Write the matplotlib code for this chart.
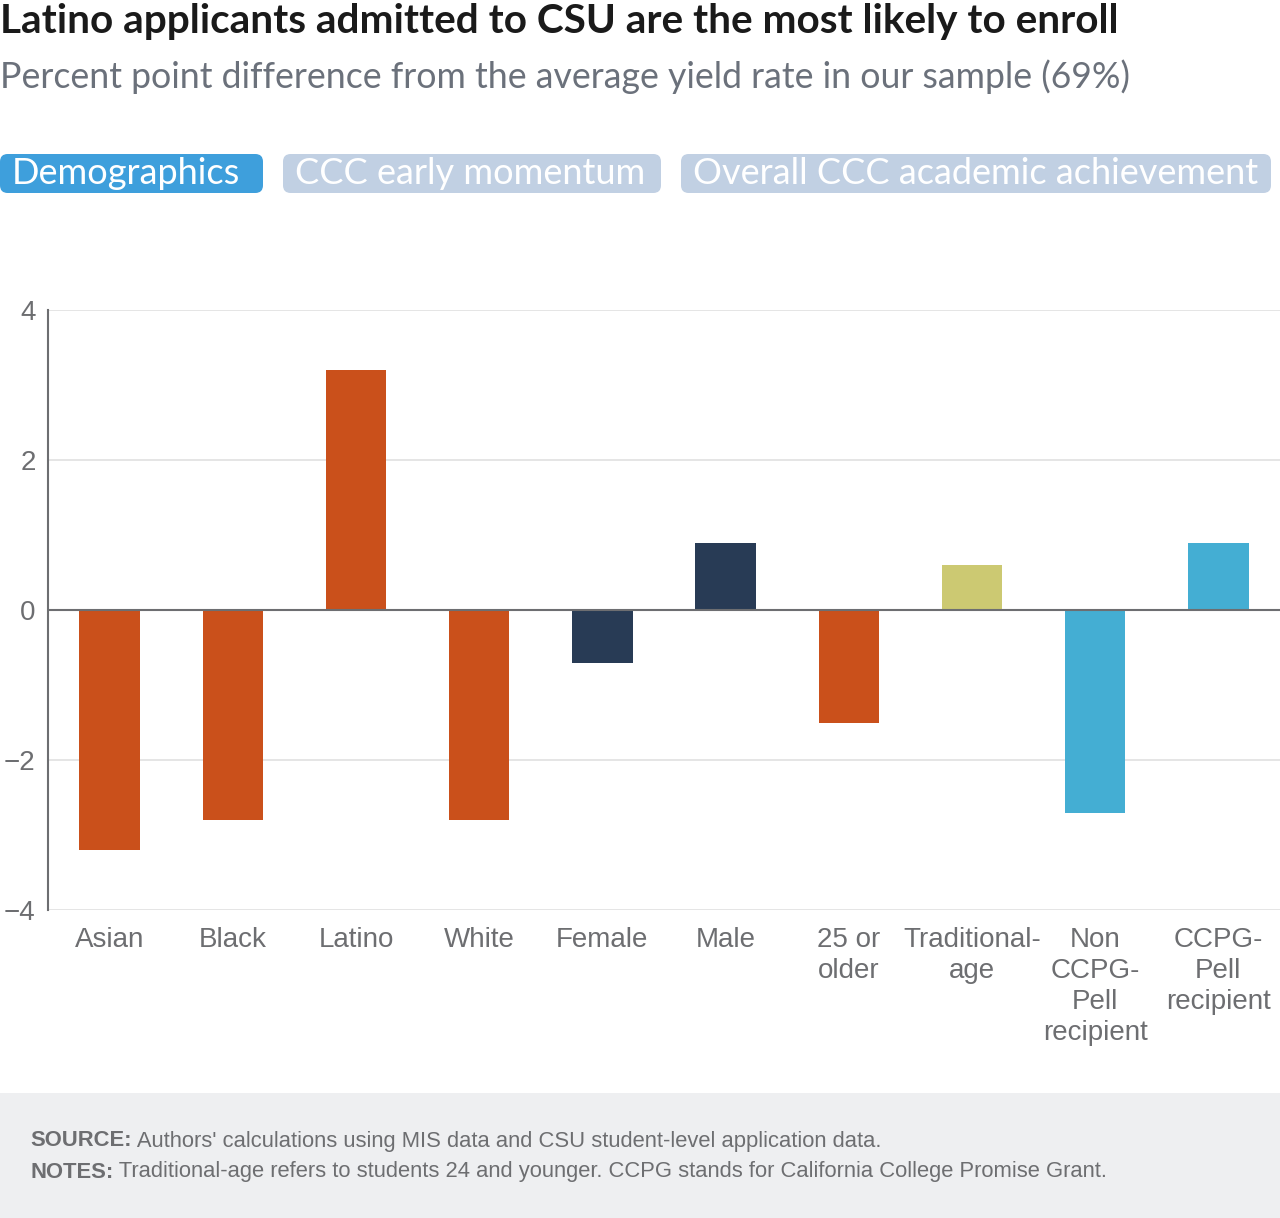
import matplotlib
matplotlib.use("Agg")
import matplotlib.pyplot as plt
from matplotlib.patches import FancyBboxPatch, Rectangle

# data
categories = ["Asian", "Black", "Latino", "White", "Female", "Male",
              "25 or\nolder", "Traditional-\nage", "Non\nCCPG-\nPell\nrecipient",
              "CCPG-\nPell\nrecipient"]
values = [-3.2, -2.8, 3.2, -2.8, -0.7, 0.9, -1.5, 0.6, -2.7, 0.9]
groups = ["race", "race", "race", "race", "gender", "gender",
          "age", "age2", "pell", "pell"]
group_colors = {"race": "#CA501B", "gender": "#283B55", "age": "#CA501B",
                "age2": "#CCC972", "pell": "#44AED3"}
yticks = [-4, -2, 0, 2, 4]
tabs = ["Demographics", "CCC early momentum", "Overall CCC academic achievement"]
footer = [("SOURCE:", " Authors' calculations using MIS data and CSU student-level application data."),
          ("NOTES:", " Traditional-age refers to students 24 and younger. CCPG stands for California College Promise Grant.")]

W, H = 1280, 1218
fig = plt.figure(figsize=(W / 100, H / 100), dpi=100)
fig.patch.set_facecolor("white")
renderer = fig.canvas.get_renderer()

# title + subtitle
fig.text(0, 1 - 22 / H, "Latino applicants admitted to CSU are the most likely to enroll",
         fontsize=29.2, fontweight="bold", family="Lato", color="#1a1a1a", va="center")
fig.text(0, 1 - 77 / H, "Percent point difference from the average yield rate in our sample (69%)",
         fontsize=25.7, family="Lato", color="#6b717b", va="center")

# tab buttons
tab_x = [(0, 263), (283, 661), (681, 1271)]
tab_fc = ["#3E9FDC", "#C1D0E3", "#C1D0E3"]
for (x0, x1), lab, fc in zip(tab_x, tabs, tab_fc):
    y0, y1 = 1 - 193 / H, 1 - 154 / H
    p = FancyBboxPatch((x0 / W, y0), (x1 - x0) / W, y1 - y0,
                       boxstyle="round,pad=0,rounding_size=0.006",
                       transform=fig.transFigure, fc=fc, ec="none",
                       mutation_aspect=W / H)
    fig.patches.append(p)
    fig.text((x0 + 12) / W, (y0 + y1) / 2, lab, fontsize=26, family="Lato",
             color="white", ha="left", va="center")

# main axes
ax = fig.add_axes([48 / W, (H - 910) / H, (W - 48) / W, 600 / H])
x = range(len(categories))
colors = [group_colors[g] for g in groups]
ax.bar(x, values, width=0.49, color=colors, zorder=2)
ax.set_xlim(-0.5, len(categories) - 0.5)
ax.set_ylim(-4, 4)
ax.set_yticks(yticks)
ax.set_yticklabels(["\u22124", "\u22122", "0", "2", "4"])
ax.set_xticks(list(x))
ax.set_xticklabels(categories, linespacing=1.26)
ax.yaxis.grid(True, color="#e3e3e3", linewidth=1.3, zorder=0)
ax.set_axisbelow(True)
ax.axhline(0, color="#6d6e71", linewidth=1.5, zorder=3)
for s in ["top", "right", "bottom"]:
    ax.spines[s].set_visible(False)
ax.spines["left"].set_color("#6d6e71")
ax.spines["left"].set_linewidth(1.5)
ax.tick_params(axis="both", length=0, labelsize=20, labelcolor="#6d6e71")
ax.tick_params(axis="y", pad=9)
ax.tick_params(axis="x", pad=12)
for t in ax.get_xticklabels() + ax.get_yticklabels():
    t.set_family("Liberation Sans")

# footer
fig.patches.append(Rectangle((0, 0), 1, 125 / H, transform=fig.transFigure,
                             fc="#EEEFF1", ec="none", zorder=0))
for (head, body), yp in zip(footer, [1141, 1172]):
    t = fig.text(30 / W, 1 - yp / H, head, fontsize=15.8, fontweight="bold",
                 family="Liberation Sans", color="#6d6e71", va="center")
    bb = t.get_window_extent(renderer)
    fig.text(bb.x1 / W, 1 - yp / H, body, fontsize=15.8,
             family="Liberation Sans", color="#6d6e71", va="center")

fig.savefig("out.png", dpi=100)
